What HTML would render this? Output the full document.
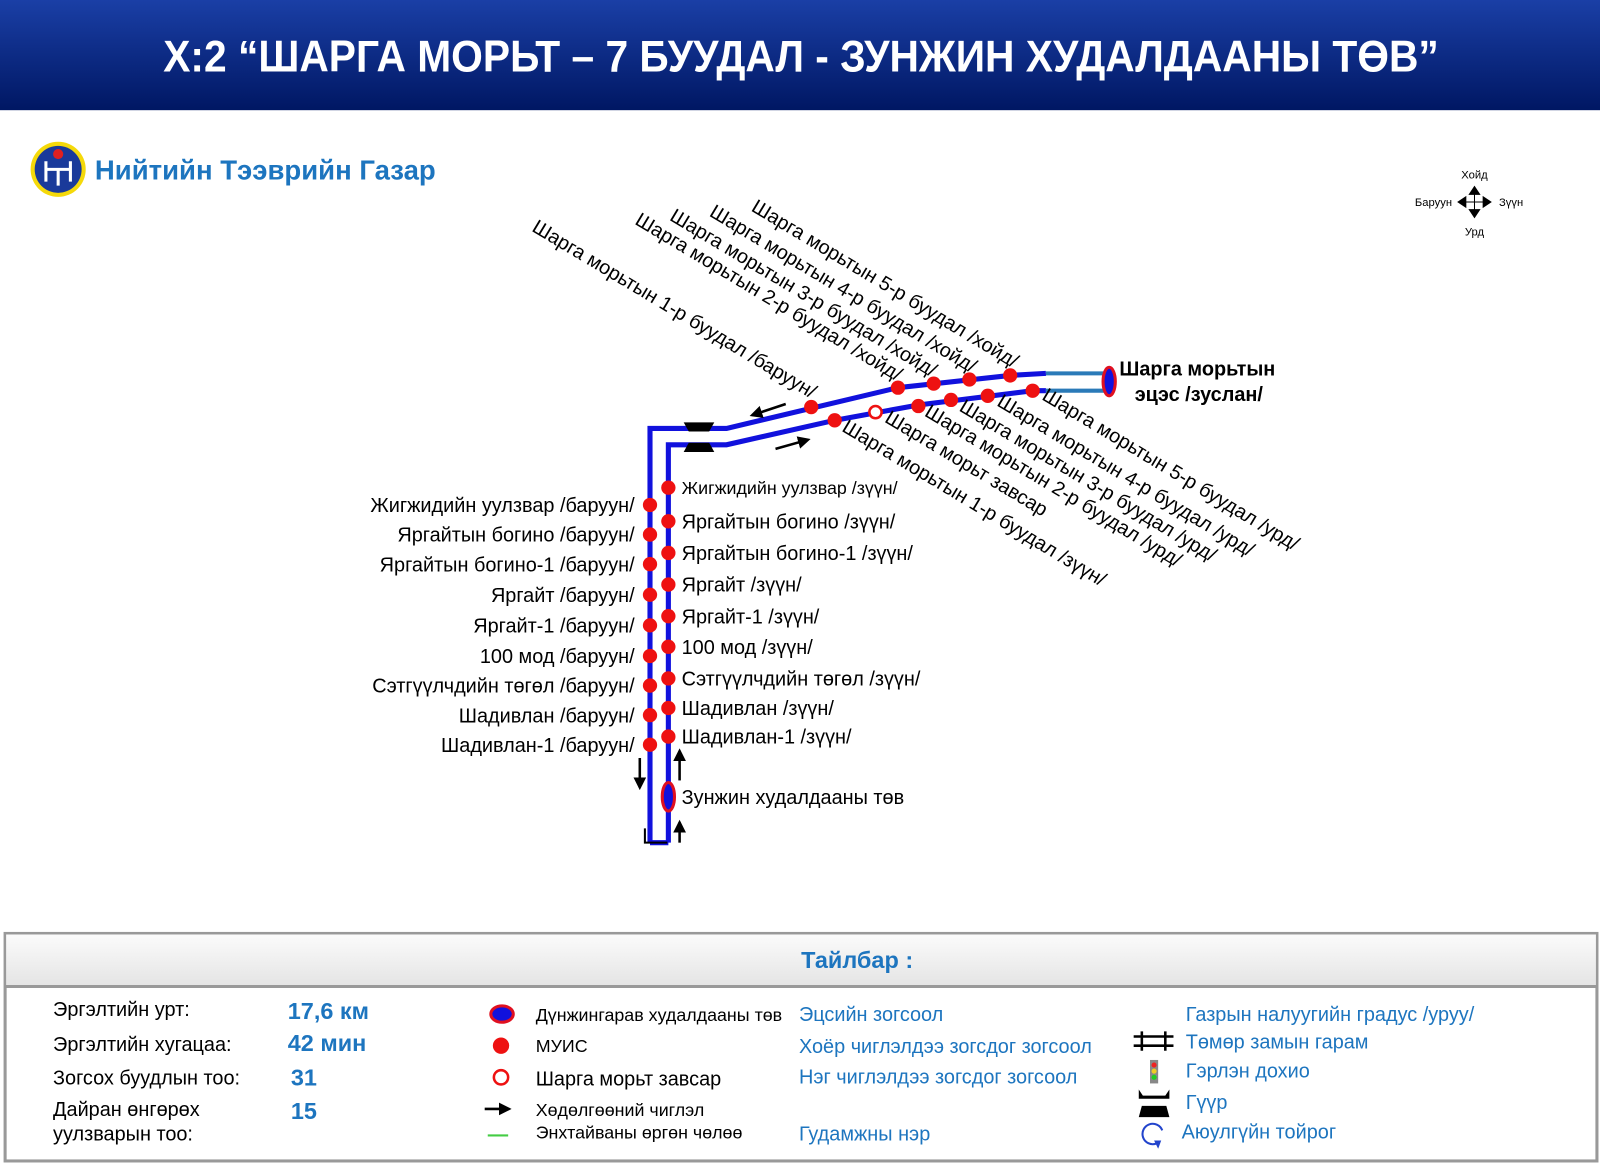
<!DOCTYPE html>
<html><head><meta charset="utf-8"><style>
html,body{margin:0;padding:0;background:#fff;width:1600px;height:1163px;overflow:hidden}
svg{display:block;font-family:"Liberation Sans",Arial,sans-serif}
</style></head><body>
<svg width="1600" height="1163" viewBox="0 0 1568 1140" preserveAspectRatio="none">
<defs>
<linearGradient id="hg" x1="0" y1="0" x2="0" y2="1"><stop offset="0" stop-color="#1a3fa6"/><stop offset="1" stop-color="#001763"/></linearGradient>
<linearGradient id="lg" x1="0" y1="0" x2="0" y2="1"><stop offset="0" stop-color="#fbfbfb"/><stop offset="1" stop-color="#e4e4e4"/></linearGradient>
<marker id="ah" viewBox="0 0 10 10" refX="8" refY="5" markerWidth="5" markerHeight="5" orient="auto"><path d="M0,0L10,5L0,10z" fill="#000"/></marker>
</defs>
<rect x="0" y="0" width="1568" height="108" fill="url(#hg)"/>
<text x="785" y="70" fill="#fff" font-size="44" font-weight="bold" text-anchor="middle" textLength="1250" lengthAdjust="spacingAndGlyphs">X:2 “ШАРГА МОРЬТ – 7 БУУДАЛ - ЗУНЖИН ХУДАЛДААНЫ ТӨВ”</text>
<!-- logo -->
<circle cx="57" cy="166" r="27" fill="#f5d90a"/><circle cx="57" cy="166" r="23" fill="#1a3a9a"/>
<path d="M45 158v20M69 158v20M45 166h24M57 166v16" stroke="#fff" stroke-width="3" fill="none"/>
<circle cx="57" cy="151" r="5" fill="#e02020"/>
<text x="93" y="176" fill="#1d75bf" font-size="27" font-weight="bold">Нийтийн Тээврийн Газар</text>
<!-- compass -->
<g font-size="11" fill="#000">
<text x="1445" y="175" text-anchor="middle">Хойд</text>
<text x="1445" y="231" text-anchor="middle">Урд</text>
<text x="1423" y="202" text-anchor="end">Баруун</text>
<text x="1469" y="202">Зүүн</text>
<path d="M1445 186v26M1432 198h26" stroke="#000"/>
<path d="M1439 191l6-9 6 9zM1439 205l6 9 6-9zM1437 192l-9 6 9 6zM1453 192l9 6-9 6z"/>
</g>
<!-- routes -->
<g fill="none" stroke="#1111dd" stroke-width="5" stroke-linejoin="miter">
<path d="M637 826V420H712L880 380L990 368L1025 366"/>
<path d="M655 826V436H712L818 412L900 397L1012 383L1025 383"/>
<path d="M637 826H655"/>
</g>
<g stroke="#2a7ab8" stroke-width="4"><path d="M1025 366H1085M1025 383H1085"/></g>
<ellipse cx="1087" cy="374" rx="6" ry="14" fill="#1111dd" stroke="#e01020" stroke-width="3"/>
<ellipse cx="655" cy="781" rx="6" ry="14" fill="#1111dd" stroke="#e01020" stroke-width="3"/>
<!-- bridge -->
<g fill="#000"><path d="M670 414h30l-5 9h-20z"/><path d="M675 434h20l5 9h-30z"/></g>
<!-- dots -->
<g fill="#ee1111">
<circle cx="795" cy="399" r="7"/><circle cx="880" cy="380" r="7"/><circle cx="915" cy="376" r="7"/><circle cx="950" cy="372" r="7"/><circle cx="990" cy="368" r="7"/>
<circle cx="818" cy="412" r="7"/><circle cx="900" cy="398" r="7"/><circle cx="932" cy="392" r="7"/><circle cx="968" cy="388" r="7"/><circle cx="1012" cy="383" r="7"/>
<circle cx="637" cy="495" r="7"/><circle cx="637" cy="524" r="7"/><circle cx="637" cy="553" r="7"/><circle cx="637" cy="583" r="7"/><circle cx="637" cy="613" r="7"/><circle cx="637" cy="643" r="7"/><circle cx="637" cy="672" r="7"/><circle cx="637" cy="701" r="7"/><circle cx="637" cy="730" r="7"/>
<circle cx="655" cy="478" r="7"/><circle cx="655" cy="511" r="7"/><circle cx="655" cy="542" r="7"/><circle cx="655" cy="573" r="7"/><circle cx="655" cy="604" r="7"/><circle cx="655" cy="634" r="7"/><circle cx="655" cy="665" r="7"/><circle cx="655" cy="694" r="7"/><circle cx="655" cy="722" r="7"/>
</g>
<circle cx="858" cy="404" r="6" fill="#fff" stroke="#ee1111" stroke-width="2.5"/>
<!-- arrows -->
<g stroke="#000" stroke-width="2.5" marker-end="url(#ah)">
<path d="M770 396L737 407"/><path d="M760 440L792 431"/>
<path d="M627 743V772"/><path d="M666 765V736"/><path d="M666 826V806"/>
</g>
<path d="M632 812v14h22" stroke="#000" stroke-width="2" fill="none"/>
<!-- left labels -->
<g font-size="19.5" fill="#000" text-anchor="end">
<text x="622" y="502">Жигжидийн уулзвар /баруун/</text>
<text x="622" y="531">Яргайтын богино /баруун/</text>
<text x="622" y="560">Яргайтын богино-1 /баруун/</text>
<text x="622" y="590">Яргайт /баруун/</text>
<text x="622" y="620">Яргайт-1 /баруун/</text>
<text x="622" y="650">100 мод /баруун/</text>
<text x="622" y="679">Сэтгүүлчдийн төгөл /баруун/</text>
<text x="622" y="708">Шадивлан /баруун/</text>
<text x="622" y="737">Шадивлан-1 /баруун/</text>
</g>
<g font-size="19.5" fill="#000">
<text x="668" y="484" font-size="17.5">Жигжидийн уулзвар /зүүн/</text>
<text x="668" y="518">Яргайтын богино /зүүн/</text>
<text x="668" y="549">Яргайтын богино-1 /зүүн/</text>
<text x="668" y="580">Яргайт /зүүн/</text>
<text x="668" y="611">Яргайт-1 /зүүн/</text>
<text x="668" y="641">100 мод /зүүн/</text>
<text x="668" y="672">Сэтгүүлчдийн төгөл /зүүн/</text>
<text x="668" y="701">Шадивлан /зүүн/</text>
<text x="668" y="729">Шадивлан-1 /зүүн/</text>
<text x="668" y="788">Зунжин худалдааны төв</text>
<text x="1097" y="368" font-weight="bold">Шарга морьтын</text>
<text x="1112" y="393" font-weight="bold">эцэс /зуслан/</text>
</g>
<!-- rotated labels -->
<g font-size="19.5" fill="#000" text-anchor="end">
<text transform="translate(993,361) rotate(31)">Шарга морьтын 5-р буудал /хойд/</text>
<text transform="translate(952,366) rotate(31)">Шарга морьтын 4-р буудал /хойд/</text>
<text transform="translate(913,370) rotate(31)">Шарга морьтын 3-р буудал /хойд/</text>
<text transform="translate(879,374) rotate(31)">Шарга морьтын 2-р буудал /хойд/</text>
<text transform="translate(795,391) rotate(31)">Шарга морьтын 1-р буудал /баруун/</text>
</g>
<g font-size="19.5" fill="#000">
<text transform="translate(1020,391) rotate(31)">Шарга морьтын 5-р буудал /урд/</text>
<text transform="translate(976,397) rotate(31)">Шарга морьтын 4-р буудал /урд/</text>
<text transform="translate(939,402) rotate(31)">Шарга морьтын 3-р буудал /урд/</text>
<text transform="translate(905,407) rotate(31)">Шарга морьтын 2-р буудал /урд/</text>
<text transform="translate(866,413) rotate(31)">Шарга морьт завсар</text>
<text transform="translate(824,422) rotate(31)">Шарга морьтын 1-р буудал /зүүн/</text>
</g>
<!-- legend -->
<rect x="5" y="915" width="1560" height="223" fill="#fff" stroke="#999" stroke-width="3"/>
<rect x="6" y="916" width="1558" height="51" fill="url(#lg)"/>
<line x1="5" y1="967" x2="1565" y2="967" stroke="#999" stroke-width="3"/>
<text x="840" y="949" fill="#1d75bf" font-size="23" font-weight="bold" text-anchor="middle">Тайлбар :</text>
<g font-size="19.5" fill="#000">
<text x="52" y="996">Эргэлтийн урт:</text>
<text x="52" y="1030">Эргэлтийн хугацаа:</text>
<text x="52" y="1063">Зогсох буудлын тоо:</text>
<text x="52" y="1094">Дайран өнгөрөх</text>
<text x="52" y="1118">уулзварын тоо:</text>
</g>
<g font-size="23" fill="#1d75bf" font-weight="bold">
<text x="282" y="999">17,6 км</text><text x="282" y="1030">42 мин</text><text x="285" y="1064">31</text><text x="285" y="1097">15</text>
</g>
<ellipse cx="492" cy="994" rx="11" ry="8" fill="#1111dd" stroke="#e01020" stroke-width="3"/>
<circle cx="491" cy="1025" r="8" fill="#ee1111"/>
<circle cx="491" cy="1056" r="7" fill="#fff" stroke="#ee1111" stroke-width="2.5"/>
<path d="M475 1087H499" stroke="#000" stroke-width="2.5" marker-end="url(#ah)"/>
<path d="M478 1113H498" stroke="#4c4" stroke-width="2"/>
<g font-size="17.5" fill="#000">
<text x="525" y="1001">Дүнжингарав худалдааны төв</text>
<text x="525" y="1031">МУИС</text>
<text x="525" y="1064" font-size="19.5">Шарга морьт завсар</text>
<text x="525" y="1094">Хөдөлгөөний чиглэл</text>
<text x="525" y="1116">Энхтайваны өргөн чөлөө</text>
</g>
<g font-size="19.5" fill="#1d75bf">
<text x="783" y="1001">Эцсийн зогсоол</text>
<text x="783" y="1032">Хоёр чиглэлдээ зогсдог зогсоол</text>
<text x="783" y="1062">Нэг чиглэлдээ зогсдог зогсоол</text>
<text x="783" y="1118">Гудамжны нэр</text>
<text x="1162" y="1001">Газрын налуугийн градус /уруу/</text>
<text x="1162" y="1028">Төмөр замын гарам</text>
<text x="1162" y="1056">Гэрлэн дохио</text>
<text x="1162" y="1087">Гүүр</text>
<text x="1158" y="1116">Аюулгүйн тойрог</text>
</g>
<path d="M1111 1016H1150M1111 1025H1150M1119 1011v19M1142 1011v19" stroke="#000" stroke-width="2.5"/>
<rect x="1127" y="1039" width="8" height="23" fill="#888"/>
<circle cx="1131" cy="1044" r="2.5" fill="#e22"/><circle cx="1131" cy="1050" r="2.5" fill="#ec2"/><circle cx="1131" cy="1056" r="2.5" fill="#2c2"/>
<path d="M1116 1068l4 6h22l4-6v9h-30zM1119 1084h24l3 11h-30z" fill="#000"/>
<path d="M1139 1108a10 10 0 1 0 -6 13" stroke="#2244cc" stroke-width="2" fill="none"/><path d="M1131 1118l4 8 3-8z" fill="#2244cc"/>
</svg>
</body></html>
